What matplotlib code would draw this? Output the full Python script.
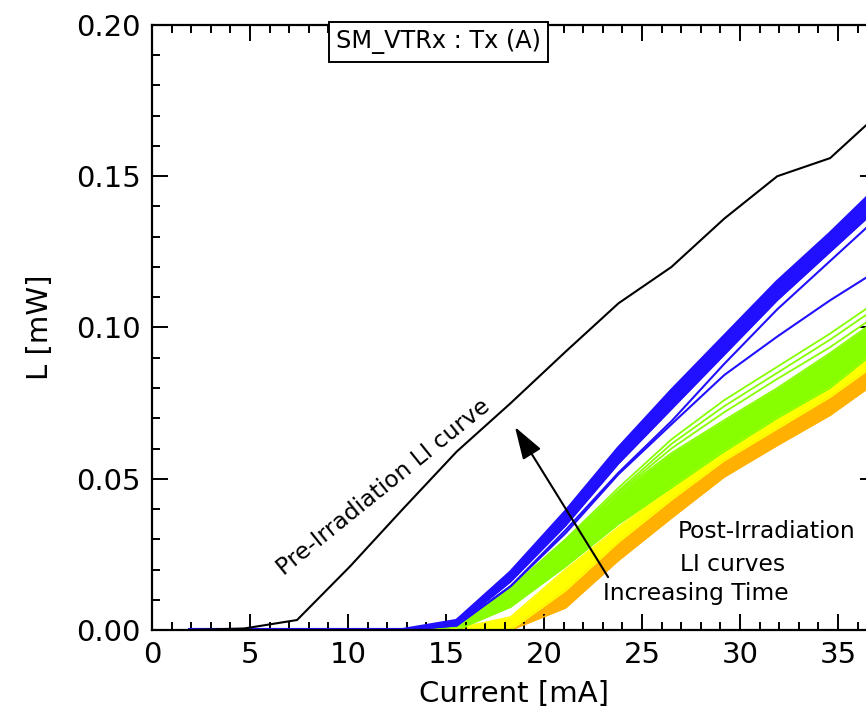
import matplotlib

matplotlib.use("Agg")
import matplotlib.pyplot as plt

plt.rcParams["font.family"] = ["DejaVu Sans"]

# --- data ------------------------------------------------------------------
# pre-irradiation LI curve
PRE_I = [1.94, 4.7, 7.4, 10.1, 12.8, 15.55, 18.3, 21.1, 23.8, 26.5, 29.2, 31.9, 34.6, 37.3]
PRE_L = [0.0, 0.0005, 0.0033, 0.021, 0.040, 0.059, 0.075, 0.092, 0.108, 0.120, 0.136, 0.150, 0.156, 0.172]

# post-irradiation current grid (orange set starts at 0, the rest at 1.94)
POST_I = [0.0, 1.94, 4.7, 7.4, 10.1, 12.8, 15.55, 18.3, 21.1, 23.8, 26.5, 29.2, 31.9, 34.6, 37.3]

BLUE_TOP = [0, 0, 0, 0, 0, 0, 0.003, 0.019, 0.039, 0.060, 0.079, 0.097, 0.115, 0.131, 0.148]
BLUE_BOT = [0, 0, 0, 0, 0, 0, 0.0015, 0.016, 0.0345, 0.055, 0.073, 0.091, 0.109, 0.125, 0.141]
BLUE_SEP = [0, 0, 0, 0, 0, 0, 0.0015, 0.0145, 0.033, 0.052, 0.069, 0.088, 0.106, 0.122, 0.138]
BLUE_LOW = [0, 0, 0, 0, 0, 0, 0.0015, 0.0145, 0.032, 0.0515, 0.068, 0.0843, 0.097, 0.109, 0.120]

GREEN_L1 = [0, 0, 0, 0, 0, 0, 0.001, 0.014, 0.030, 0.047, 0.063, 0.076, 0.087, 0.098, 0.110]
GREEN_L2 = [0, 0, 0, 0, 0, 0, 0.001, 0.0138, 0.0295, 0.046, 0.0615, 0.074, 0.085, 0.096, 0.108]
GREEN_L3 = [0, 0, 0, 0, 0, 0, 0.001, 0.0136, 0.029, 0.0455, 0.060, 0.072, 0.083, 0.0935, 0.1055]
GREEN_TOP = [0, 0, 0, 0, 0, 0, 0.001, 0.0135, 0.029, 0.0453, 0.0585, 0.0694, 0.080, 0.0916, 0.104]
GREEN_BOT = [0, 0, 0, 0, 0, 0, 0.0, 0.0076, 0.021, 0.035, 0.047, 0.059, 0.070, 0.080, 0.094]

YELLOW_TOP = [0, 0, 0, 0, 0, 0, 0.0005, 0.0043, 0.020, 0.034, 0.047, 0.059, 0.070, 0.080, 0.094]
YELLOW_BOT = [0, 0, 0, 0, 0, 0, 0.0, 0.0, 0.013, 0.029, 0.043, 0.056, 0.0665, 0.077, 0.0895]

ORANGE_TOP = [0, 0, 0, 0, 0, 0, 0.0, 0.0, 0.013, 0.029, 0.043, 0.056, 0.0665, 0.077, 0.0895]
ORANGE_BOT = [0, 0, 0, 0, 0, 0, 0.0, 0.0, 0.0073, 0.023, 0.037, 0.0506, 0.061, 0.071, 0.0835]

BLUE = "#2010ff"
GREEN = "#88ff00"
YELLOW = "#ffff00"
ORANGE = "#ffb000"

fig = plt.figure(figsize=(8.66, 7.18), dpi=100)
# right spine sits just outside the picture, as in the cropped original
ax = fig.add_axes([152 / 866, 88 / 718, 724 / 866, 605 / 718])


def band(x, lo, hi, color, start=1):
    ax.fill_between(x[start:], lo[start:], hi[start:], color=color, lw=0)
    ax.plot(x[start:], lo[start:], color=color, lw=1.2)
    ax.plot(x[start:], hi[start:], color=color, lw=1.2)


band(POST_I, ORANGE_BOT, ORANGE_TOP, ORANGE, start=0)
band(POST_I, YELLOW_BOT, YELLOW_TOP, YELLOW)
band(POST_I, GREEN_BOT, GREEN_TOP, GREEN)
for g in (GREEN_L1, GREEN_L2, GREEN_L3):
    ax.plot(POST_I[1:], g[1:], color=GREEN, lw=1.3)
ax.plot(POST_I[1:], BLUE_LOW[1:], color=BLUE, lw=1.5)
ax.plot(POST_I[1:], BLUE_SEP[1:], color=BLUE, lw=1.5)
band(POST_I, BLUE_BOT, BLUE_TOP, BLUE)
ax.plot(POST_I[1:], BLUE_TOP[1:], color=BLUE, lw=3)

ax.plot(PRE_I, PRE_L, color="black", lw=1.5, zorder=5)

ax.set_xlim(0, 724 / 19.6)
ax.set_ylim(0, 0.20)
ax.set_xticks([0, 5, 10, 15, 20, 25, 30, 35])
ax.set_xticks(range(0, 37), minor=True)
ax.set_yticks([0.0, 0.05, 0.10, 0.15, 0.20])
ax.set_yticks([i * 0.01 for i in range(21)], minor=True)
ax.set_yticklabels(["0.00", "0.05", "0.10", "0.15", "0.20"])
ax.tick_params(which="both", direction="in", top=True, right=True, width=1.4,
               labelsize=21, pad=8)
ax.tick_params(which="major", length=11.5)
ax.tick_params(which="minor", length=5.8)
for s in ax.spines.values():
    s.set_linewidth(1.6)

ax.set_xlabel("Current [mA]", fontsize=21, labelpad=8)
ax.set_ylabel("L [mW]", fontsize=21, labelpad=16)

ax.text(0.396, 0.972, "SM_VTRx : Tx (A)", transform=ax.transAxes, fontsize=17.3,
        ha="center", va="center", zorder=10,
        bbox=dict(boxstyle="square,pad=0.3", fc="white", ec="black", lw=1.4))

ax.text(11.8, 0.0473, "Pre-Irradiation LI curve", fontsize=16.8, rotation=38.9,
        ha="center", va="center", rotation_mode="anchor")
ax.text(26.84, 0.0324, "Post-Irradiation", fontsize=16.8, ha="left", va="center")
ax.text(26.94, 0.0215, "LI curves", fontsize=16.8, ha="left", va="center")
ax.text(23.0, 0.0122, "Increasing Time", fontsize=16.8, ha="left", va="center")
ax.annotate("", xy=(18.52, 0.0671), xytext=(23.27, 0.0175),
            arrowprops=dict(arrowstyle="-|>,head_length=2.0,head_width=0.65",
                            color="black", lw=1.5, shrinkA=0, shrinkB=0),
            zorder=6)

fig.savefig("out.png", dpi=100)
